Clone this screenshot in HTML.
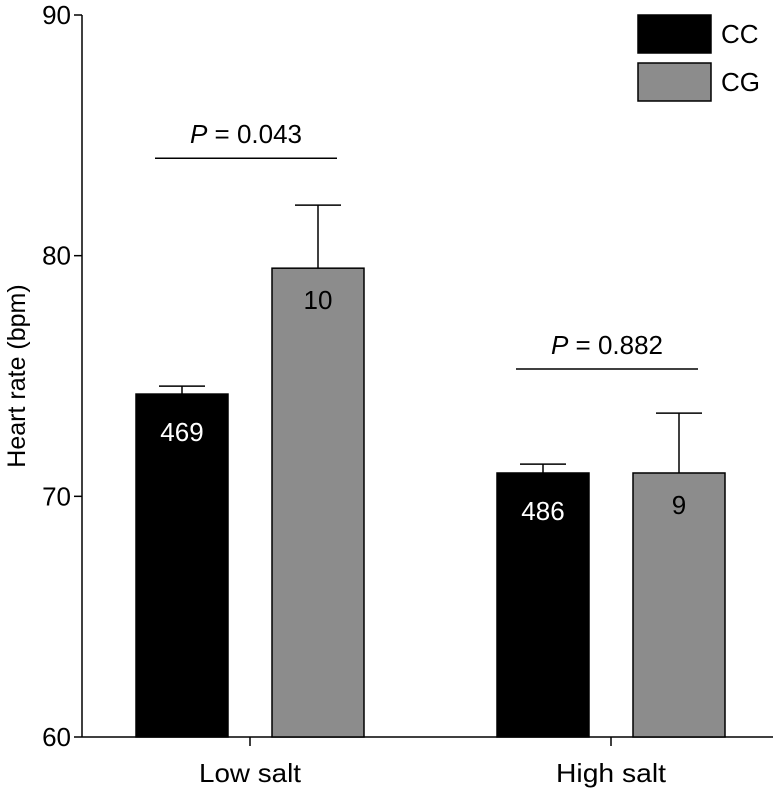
<!DOCTYPE html>
<html><head><meta charset="utf-8"><style>
html,body{margin:0;padding:0;background:#fff}
svg{display:block;font-family:"Liberation Sans",Arial,sans-serif}
</style></head><body>
<svg id="chart" width="773" height="788"></svg>
<script>
const groups = ["Low salt", "High salt"];
const ccValues = [74.25, 70.97];
const cgValues = [79.48, 70.97];
const ccErr = [0.33, 0.37];
const cgErr = [2.62, 2.49];
const ccN = ["469", "486"];
const cgN = ["10", "9"];
const pValues = ["0.043", "0.882"];
const pLevels = [84.05, 75.29];
const yTicks = [60, 70, 80, 90];

const NS = "http://www.w3.org/2000/svg";
const svg = document.getElementById("chart");
const y0 = 737, y1 = 15, vMin = 60, vMax = 90;
const y = v => y0 - (v - vMin) / (vMax - vMin) * (y0 - y1);
const groupCenters = [250, 611];
const x = i => groupCenters[i];
const bw = 92, gap = 44;

function mk(tag, attrs, parent) {
  const e = document.createElementNS(NS, tag);
  for (const k in attrs) e.setAttribute(k, attrs[k]);
  (parent || svg).appendChild(e);
  return e;
}

const ya = mk("line", {x1: 82, y1: y1, x2: 82, y2: y0, stroke: "#000", "stroke-width": 1.5});


const xa = mk("line", {x1: 82, y1: y0, x2: 773, y2: y0, stroke: "#000", "stroke-width": 1.5});



yTicks.forEach(t => {
  const tk = mk("line", {x1: 74, y1: y(t), x2: 82, y2: y(t), stroke: "#000", "stroke-width": 1.5});
  
  
  const tl = mk("text", {x: 71, y: y(t) + 9, "text-anchor": "end", "font-size": 26});
  tl.textContent = t;
  
  
});

const yt = mk("text", {x: 0, y: 0, "text-anchor": "middle", "font-size": 25, transform: "translate(25,376) rotate(-90)"});
yt.textContent = "Heart rate (bpm)";



groups.forEach((g, i) => {
  const cx = x(i);
  const tk = mk("line", {x1: cx, y1: y0, x2: cx, y2: y0 + 9, stroke: "#000", "stroke-width": 1.5});
  
  
  const gl = mk("text", {x: cx, y: 782, "text-anchor": "middle", "font-size": 26, textLength: 102, lengthAdjust: "spacingAndGlyphs"});
  gl.textContent = g;
  if (i === 1) gl.setAttribute("textLength", 110);
  
  

  const series = [
    {v: ccValues[i], e: ccErr[i], n: ccN[i], fill: "#000", tc: "#fff", bx: cx - gap / 2 - bw, name: "cc", off: 47},
    {v: cgValues[i], e: cgErr[i], n: cgN[i], fill: "#8c8c8c", tc: "#000", bx: cx + gap / 2, name: "cg", off: 41}
  ];
  series.forEach(s => {
    const mid = s.bx + bw / 2;
    const el = mk("line", {x1: mid, y1: y(s.v), x2: mid, y2: y(s.v + s.e), stroke: "#000", "stroke-width": 1.5});
    
    
    const cap = mk("line", {x1: mid - 23, y1: y(s.v + s.e), x2: mid + 23, y2: y(s.v + s.e), stroke: "#000", "stroke-width": 1.5});
    
    
    const r = mk("rect", {x: s.bx, y: y(s.v), width: bw, height: y0 - y(s.v), fill: s.fill, stroke: "#000", "stroke-width": 1.5});
    
    
    const nl = mk("text", {x: mid, y: y(s.v) + s.off, "text-anchor": "middle", "font-size": 26, fill: s.tc});
    nl.textContent = s.n;
    
    
  });

  const ly = y(pLevels[i]);
  const lc = cx - 4;
  const pl = mk("line", {x1: lc - 91, y1: ly, x2: lc + 91, y2: ly, stroke: "#000", "stroke-width": 1.5});
  
  
  const pt = mk("text", {x: lc, y: ly - 15, "text-anchor": "middle", "font-size": 26});
  const it = mk("tspan", {"font-style": "italic"}, pt);
  it.textContent = "P";
  const rest = mk("tspan", {}, pt);
  rest.textContent = " = " + pValues[i];
  
  
});

[["CC", "#000", 15], ["CG", "#8c8c8c", 63]].forEach(([lab, f, ty]) => {
  const r = mk("rect", {x: 638, y: ty, width: 73, height: 38, fill: f, stroke: "#000", "stroke-width": 1.5});
  
  
  const t = mk("text", {x: 721, y: ty + 28, "font-size": 26});
  t.textContent = lab;
  
  
});
</script>
</body></html>
